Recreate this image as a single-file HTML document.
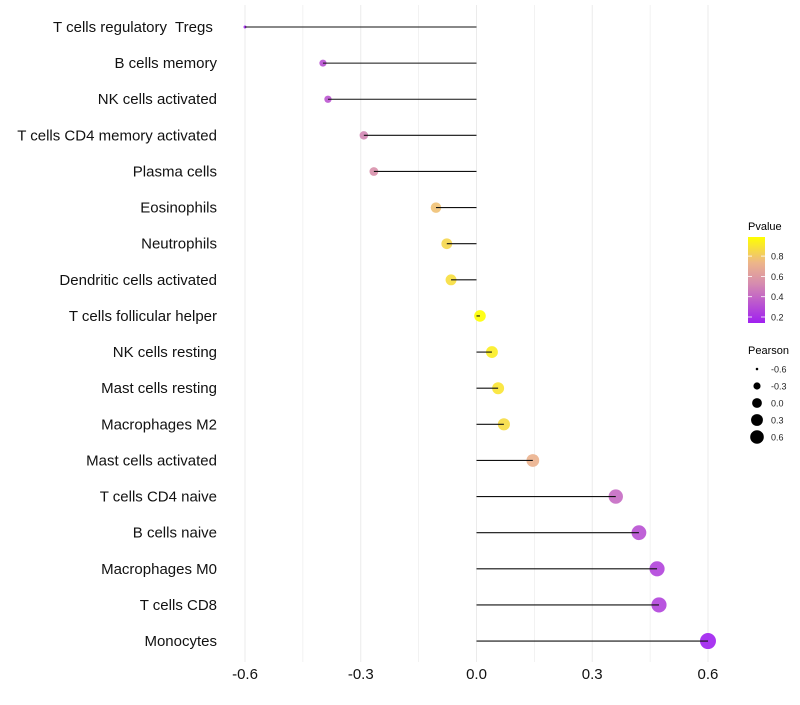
<!DOCTYPE html>
<html><head><meta charset="utf-8"><style>
html,body{margin:0;padding:0;background:#fff;}
svg text{font-family:"Liberation Sans",sans-serif;}
</style></head><body>
<svg id="chart" width="800" height="700" xmlns="http://www.w3.org/2000/svg">
<defs>
<linearGradient id="pgrad" x1="0" y1="1" x2="0" y2="0">
<stop offset="0" stop-color="#A020F0"/>
<stop offset="0.45" stop-color="#D58AB0"/>
<stop offset="0.7" stop-color="#EDB58A"/>
<stop offset="1" stop-color="#FFFF00"/>
</linearGradient>
</defs>
<g id="grid"></g>
<g id="marks"></g>
<g id="ylabels"></g>
<g id="xlabels"></g>
<g>
<text x="748" y="230" font-size="11" fill="#000">Pvalue</text>
<rect x="748" y="237" width="17" height="86" fill="url(#pgrad)"/>
<g id="cbticks"></g>
</g>
<g>
<text x="748" y="354" font-size="11" fill="#000">Pearson</text>
<g id="sizeleg"></g>
</g>
</svg>
<script>
const categories=["T cells regulatory  Tregs ","B cells memory","NK cells activated","T cells CD4 memory activated","Plasma cells","Eosinophils","Neutrophils","Dendritic cells activated","T cells follicular helper","NK cells resting","Mast cells resting","Macrophages M2","Mast cells activated","T cells CD4 naive","B cells naive","Macrophages M0","T cells CD8","Monocytes"];
const pearson=[-0.600,-0.398,-0.385,-0.292,-0.266,-0.105,-0.077,-0.066,0.009,0.040,0.056,0.071,0.146,0.361,0.421,0.468,0.473,0.600];
const pvalues=[0.10,0.30,0.32,0.50,0.55,0.78,0.85,0.88,0.99,0.93,0.90,0.87,0.72,0.40,0.30,0.25,0.25,0.12];
const xTicks=[-0.6,-0.3,0.0,0.3,0.6];
const xTickLabels=["-0.6","-0.3","0.0","0.3","0.6"];
const sizeLegendVals=[-0.6,-0.3,0.0,0.3,0.6];
const sizeLegendLabels=["-0.6","-0.3","0.0","0.3","0.6"];
const cbTicks=[0.2,0.4,0.6,0.8];
const cbTickLabels=["0.2","0.4","0.6","0.8"];

const NS="http://www.w3.org/2000/svg";
function mk(t,a,p){const e=document.createElementNS(NS,t);for(const k in a)e.setAttribute(k,a[k]);p.appendChild(e);return e;}
const xS=v=>476.5+v*385.8;
const yS=i=>27+i*36.12;
const rS=v=>Math.sqrt(2.25+(v+0.6)/1.2*(64-2.25));
const stops=[[0.12,[160,32,240]],[0.52,[213,138,176]],[0.74,[237,181,138]],[0.99,[255,255,0]]];
function col(p){p=Math.max(0.12,Math.min(0.99,p));for(let i=0;i<stops.length-1;i++){const[a,ca]=stops[i],[b,cb]=stops[i+1];if(p<=b){const t=(p-a)/(b-a);return "rgb("+ca.map((c,j)=>Math.round(c+(cb[j]-c)*t)).join(",")+")";}}return "rgb(255,255,0)";}
const cbY=p=>317-(p-0.2)/0.2*20.3;

const grid=document.getElementById('grid');
for(let v=-0.6;v<=0.61;v+=0.15){const g=mk('line',{x1:xS(v),x2:xS(v),y1:5,y2:662,stroke:'#ebebeb','stroke-width':Math.abs(Math.round(v/0.15))%2===0?1:0.6},grid);

}

const marks=document.getElementById('marks'),yl=document.getElementById('ylabels');
categories.forEach((c,i)=>{
 const y=yS(i);
 const pt=mk('circle',{cx:xS(pearson[i]),cy:y,r:rS(pearson[i]),fill:col(pvalues[i]),'fill-opacity':0.9},marks);
 
 
 const ln=mk('line',{x1:xS(0),x2:xS(pearson[i]),y1:y,y2:y,stroke:'#111','stroke-width':1.1},marks);
 
 
 const t=mk('text',{x:217,y:y+5,'text-anchor':'end','font-size':15,fill:'#111','xml:space':'preserve'},yl);
 t.setAttribute('style','white-space:pre');
 t.textContent=c;
 
 
});
const xl=document.getElementById('xlabels');
xTicks.forEach((v,i)=>{const t=mk('text',{x:xS(v),y:679,'text-anchor':'middle','font-size':15,fill:'#111'},xl);t.textContent=xTickLabels[i];

});
const cb=document.getElementById('cbticks');
cbTicks.forEach((v,i)=>{const y=cbY(v);
 mk('line',{x1:748,x2:752,y1:y,y2:y,stroke:'#fff','stroke-width':0.8},cb);
 mk('line',{x1:761,x2:765,y1:y,y2:y,stroke:'#fff','stroke-width':0.8},cb);
 const t=mk('text',{x:771,y:y+3.5,'font-size':9,fill:'#222'},cb);t.textContent=cbTickLabels[i];
 
 });
const sl=document.getElementById('sizeleg');
sizeLegendVals.forEach((v,i)=>{const y=369+i*17;
 const c=mk('circle',{cx:757,cy:y,r:rS(v)*0.85,fill:'#000'},sl);
 
 
 const t=mk('text',{x:771,y:y+3.5,'font-size':9,fill:'#222'},sl);t.textContent=sizeLegendLabels[i];
 
 });
</script>
</body></html>
